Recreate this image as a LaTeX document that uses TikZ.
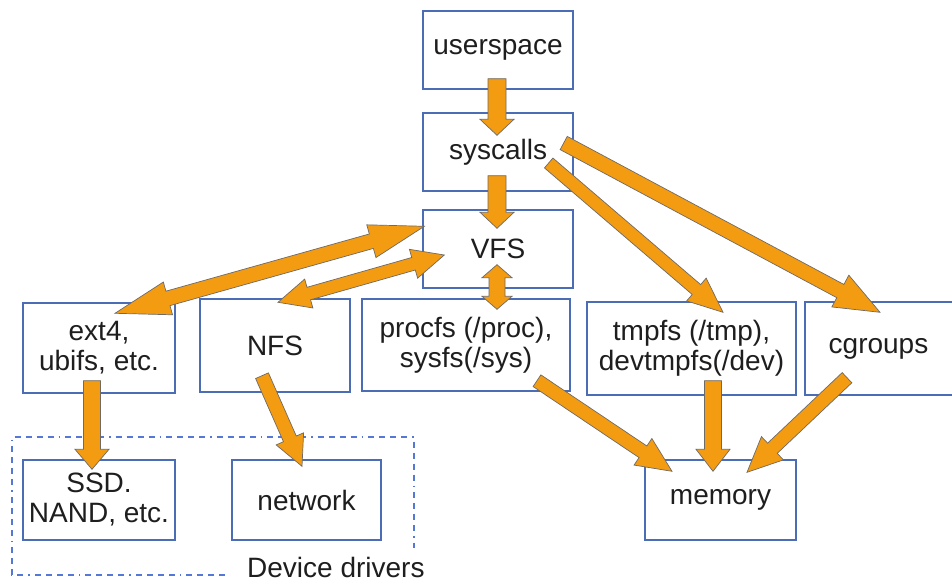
\documentclass[tikz,border=0pt]{standalone}
\usepackage{fontspec}
\setmainfont{Liberation Sans}
\usetikzlibrary{calc}
\definecolor{boxblue}{HTML}{4A6DB5}
\definecolor{dashblue}{HTML}{5577D6}
\definecolor{arrfill}{HTML}{F39C12}
\definecolor{arredge}{HTML}{6E6A66}
\definecolor{txt}{HTML}{1E1E1E}
\newcommand\labfont{\fontsize{28}{30}\selectfont}
% single fat arrow: from, to, shaft half width, head half width, head length
\newcommand\fatarrow[5]{%
  \coordinate (faA) at (#1); \coordinate (faB) at (#2);
  \coordinate (faC) at ($(faB)!#5!(faA)$);
  \filldraw[arrowbody] ($(faA)!#3!90:(faB)$) -- ($(faC)!#3!90:(faB)$) -- ($(faC)!#4!90:(faB)$)
    -- (faB) -- ($(faC)!#4!-90:(faB)$) -- ($(faC)!#3!-90:(faB)$) -- ($(faA)!#3!-90:(faB)$) -- cycle;}
% double fat arrow
\newcommand\fatdarrow[5]{%
  \coordinate (faA) at (#1); \coordinate (faB) at (#2);
  \coordinate (faC) at ($(faA)!#5!(faB)$);
  \coordinate (faD) at ($(faB)!#5!(faA)$);
  \filldraw[arrowbody] (faA) -- ($(faC)!#4!90:(faB)$) -- ($(faC)!#3!90:(faB)$) -- ($(faD)!#3!-90:(faA)$)
    -- ($(faD)!#4!-90:(faA)$) -- (faB) -- ($(faD)!#4!90:(faA)$) -- ($(faD)!#3!90:(faA)$)
    -- ($(faC)!#3!-90:(faB)$) -- ($(faC)!#4!-90:(faB)$) -- cycle;}
\tikzset{
  box/.style={draw=boxblue, line width=1.4pt, fill=white, inner sep=0pt, align=center,
    font=\labfont, text=txt, rectangle},
  arrowbody/.style={fill=arrfill, draw=arredge, line width=0.7pt, line join=miter},
  drvbox/.style={draw=dashblue, line width=2.2pt,
    dash pattern=on 6pt off 5pt on 6pt off 5pt on 6pt off 5pt on 6pt off 5pt on 1.5pt off 5pt}
}
\begin{document}
\begin{tikzpicture}[x=1pt,y=-1pt]
\useasboundingbox (0,0) rectangle (952,585);
\fill[white] (0,0) rectangle (952,585);
% boxes
\node[box, minimum width=150pt, minimum height=78pt] (userspace) at (498,50) {userspace};
\node[box, minimum width=150pt, minimum height=78pt] (syscalls) at (498,152) {syscalls};
\node[box, minimum width=150pt, minimum height=78pt] (vfs) at (498,249) {VFS};
\node[box, minimum width=152pt, minimum height=90pt] (ext4) at (99,348) {ext4,\\ubifs, etc.};
\node[box, minimum width=150pt, minimum height=93pt] (nfs) at (275,345.5) {NFS};
\node[box, minimum width=208pt, minimum height=92pt] (procfs) at (466,345) {procfs (/proc),\\sysfs(/sys)};
\node[box, minimum width=209pt, minimum height=93pt] (tmpfs) at (691.5,348.5) {tmpfs (/tmp),\\devtmpfs(/dev)};
\node[box, minimum width=155pt, minimum height=93pt] (cgroups) at (882.5,348.5) {\hspace*{-8pt}cgroups};
\node[box, minimum width=152pt, minimum height=80pt] (ssd) at (99,500) {SSD.\\NAND, etc.};
\node[box, minimum width=149pt, minimum height=80pt] (network) at (306.5,500) {network};
\node[box, minimum width=151pt, minimum height=80pt] (memory) at (720.5,500) {memory};
% device driver group
\coordinate (dd1) at (225,575);
\coordinate (dd2) at (12,575);
\coordinate (dd3) at (12,437);
\coordinate (dd4) at (414,437);
\coordinate (dd5) at (414,548);
\draw[drvbox] (dd1) -- (dd2) -- (dd3) -- (dd4) -- (dd5);
\node[font=\labfont, text=txt, anchor=base west, inner sep=0pt] (drivers) at (247,577) {Device drivers};
% arrow end points
\coordinate (a1s) at ([shift={(-1,-11)}]userspace.south);
\coordinate (a1e) at ([shift={(-1,23)}]syscalls.north);
\coordinate (a2s) at ([shift={(-1,-16)}]syscalls.south);
\coordinate (a2e) at ([shift={(-1,19)}]vfs.north);
\coordinate (a3s) at ([shift={(2,17)}]vfs.north west);
\coordinate (a3e) at ([shift={(16,11)}]ext4.north);
\coordinate (a4s) at ([shift={(22,6)}]vfs.west);
\coordinate (a4e) at ([shift={(3,4)}]nfs.north);
\coordinate (a5s) at ([shift={(-1,-24)}]vfs.south);
\coordinate (a5e) at ([shift={(31,11)}]procfs.north);
\coordinate (a6s) at ([shift={(-25,11)}]syscalls.east);
\coordinate (a6e) at ([shift={(31.5,11)}]tmpfs.north);
\coordinate (a7s) at ([shift={(-10,-9)}]syscalls.east);
\coordinate (a7e) at ([shift={(-2.5,11)}]cgroups.north);
\coordinate (a8s) at ([shift={(-7,-13)}]ext4.south);
\coordinate (a8e) at ([shift={(-7,10)}]ssd.north);
\coordinate (a9s) at ([shift={(-13,-17)}]nfs.south);
\coordinate (a9e) at ([shift={(-4.5,7)}]network.north);
\coordinate (a10s) at ([shift={(71,-11)}]procfs.south);
\coordinate (a10e) at ([shift={(-48.5,12)}]memory.north);
\coordinate (a11s) at ([shift={(21.5,-15)}]tmpfs.south);
\coordinate (a11e) at ([shift={(-7.5,12)}]memory.north);
\coordinate (a12s) at ([shift={(-35.5,-18)}]cgroups.south);
\coordinate (a12e) at ([shift={(26.5,13)}]memory.north);
% arrows
\fatarrow{a1s}{a1e}{9pt}{17pt}{16pt}
\fatarrow{a2s}{a2e}{9pt}{17pt}{16pt}
\fatdarrow{a3s}{a3e}{7.5pt}{17pt}{55pt}
\fatdarrow{a4s}{a4e}{6.5pt}{15pt}{32pt}
\fatdarrow{a5s}{a5e}{8pt}{15pt}{13pt}
\fatarrow{a6s}{a6e}{6.5pt}{15pt}{35pt}
\fatarrow{a7s}{a7e}{7.5pt}{18pt}{45pt}
\fatarrow{a8s}{a8e}{8.5pt}{17pt}{20pt}
\fatarrow{a9s}{a9e}{7pt}{15pt}{30pt}
\fatarrow{a10s}{a10e}{7pt}{16pt}{35pt}
\fatarrow{a11s}{a11e}{8.5pt}{17pt}{22pt}
\fatarrow{a12s}{a12e}{7pt}{16pt}{35pt}
\end{tikzpicture}
\end{document}
